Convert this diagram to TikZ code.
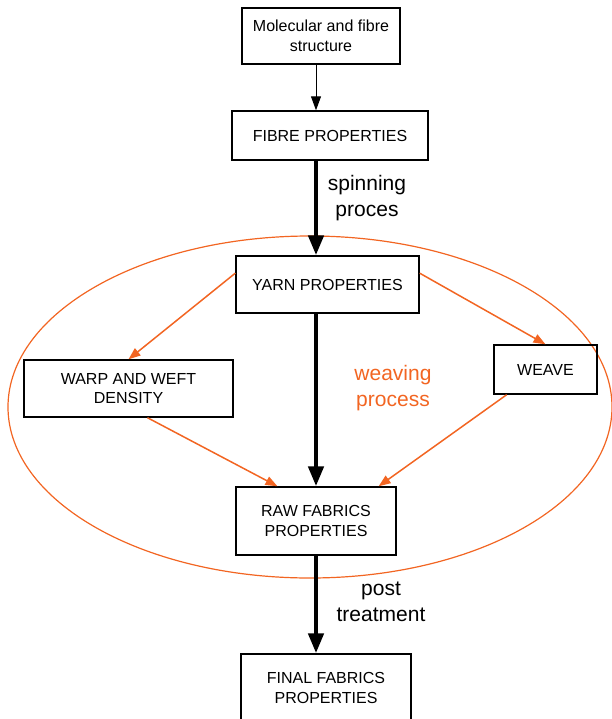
\documentclass[tikz,border=0pt]{standalone}
\usepackage{fontspec}
\setmainfont{Liberation Sans}
\usetikzlibrary{arrows.meta}
\definecolor{weaveorange}{RGB}{242,101,34}
\tikzset{
  box/.style={draw, line width=1.4pt, inner sep=0pt, align=center,
    font=\fontsize{16}{19.5}\selectfont},
  proclabel/.style={align=center, font=\fontsize{21}{26}\selectfont},
  thinarrow/.style={-{Triangle[length=14pt,width=10pt]}, line width=1pt},
  bigarrow/.style={-{Triangle[length=20pt,width=15pt]}, line width=4.5pt},
  orangearrow/.style={-{Triangle[length=12pt,width=9pt]}, weaveorange, line width=1.5pt}
}

\begin{document}
\begin{tikzpicture}[x=1pt, y=-1pt]
  \useasboundingbox (0,0) rectangle (612,719);
  \clip (0,0) rectangle (612,719);

  % 坐标
  \coordinate (axis) at (316,0);

  % 椭圆
  \draw[weaveorange, line width=1.2pt] (310,407) ellipse (302pt and 171pt);

  % 方框
  \node[box, minimum width=158, minimum height=56] (mol) at (321,36) {Molecular and fibre\\structure};
  \node[box, minimum width=196, minimum height=49] (fibre) at (330,135.5) {FIBRE PROPERTIES};
  \node[box, minimum width=183, minimum height=57] (yarn) at (327.5,284.5) {YARN PROPERTIES};
  \node[box, minimum width=209, minimum height=57] (warp) at (128.5,388.5) {WARP AND WEFT\\DENSITY};
  \node[box, minimum width=103, minimum height=49] (weave) at (545.5,369.5) {WEAVE};
  \node[box, minimum width=160, minimum height=68] (raw) at (316,521) {RAW FABRICS\\PROPERTIES};
  \node[box, minimum width=170, minimum height=68] (final) at (326,688) {FINAL FABRICS\\PROPERTIES};

  % 箭头
  \draw[thinarrow] (mol.south -| axis) -- (fibre.north -| axis);
  \draw[bigarrow] (fibre.south -| axis) -- (yarn.north -| axis);
  \draw[bigarrow] (yarn.south -| axis) -- (raw.north -| axis);
  \draw[bigarrow] (raw.south -| axis) -- (final.north -| axis);

  \draw[orangearrow] (yarn.173) -- (warp.north);
  \draw[orangearrow] (yarn.7) -- (weave.north);
  \draw[orangearrow] (warp.-57) -- (raw.138);
  \draw[orangearrow] (weave.-147) -- (raw.29);

  % 文字
  \node[proclabel] (spin) at (367,198) {spinning\\proces};
  \node[proclabel, text=weaveorange] (weaving) at (393,388) {weaving\\process};
  \node[proclabel] (post) at (381,602) {post\\treatment};
\end{tikzpicture}
\end{document}
